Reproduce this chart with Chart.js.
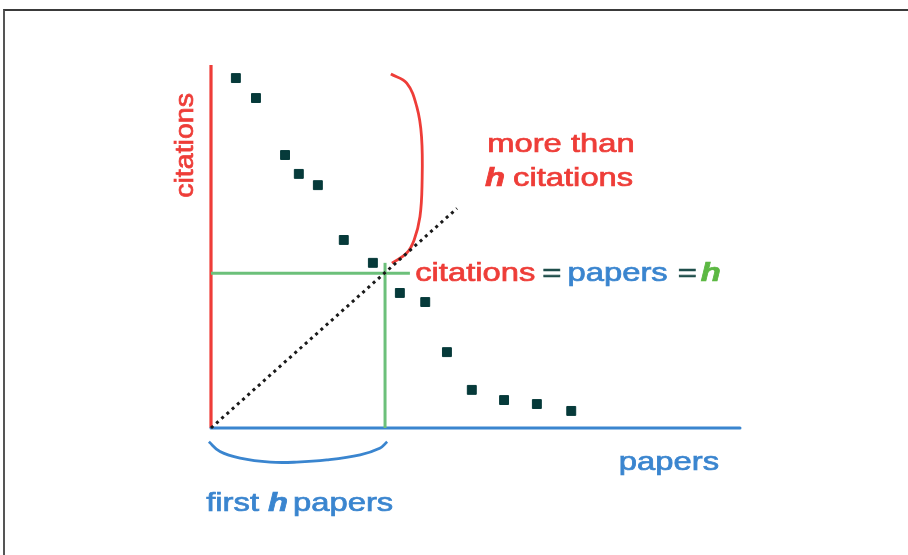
<!DOCTYPE html>
<html>
<head>
<meta charset="utf-8">
<script src="https://cdn.jsdelivr.net/npm/chart.js@4/dist/chart.umd.min.js"></script>
<style>
  html, body { margin: 0; padding: 0; background: #fff; overflow: hidden; }
  #frame { position: absolute; left: 3px; top: 9px; width: 920px; height: 560px;
           border-top: 2px solid #3a3a3a; border-left: 2px solid #555; }
  #chart { position: absolute; left: 0; top: 0; }
</style>
</head>
<body>
<div id="frame"></div>
<canvas id="chart" width="908" height="555"></canvas>
<script>
// papers ranked by citations (x = paper position, y = citations), 0..100 units
const paperX = [4.7, 8.5, 14.0, 16.6, 20.2, 25.1, 30.6, 35.7, 40.5, 44.6, 49.3, 55.4, 61.6, 68.1];
const citeY = [96.4, 90.9, 75.2, 70.0, 66.9, 51.8, 45.5, 37.2, 34.7, 20.9, 10.5, 7.7, 6.6, 4.7];

// h marker and the citations = papers diagonal
const hX = 32.9;
const hY = 42.6;
const diagEnd = [46.5, 60.5];

// braces
const bracePapersX = [-0.4, 1.7, 5.5, 11.2, 16.2, 21.9, 28.2, 31.9, 33.3];
const bracePapersY = [-3.8, -6.5, -8.3, -9.4, -9.4, -8.8, -7.4, -5.6, -3.8];
const braceCitesX = [34.0, 37.0, 38.9, 39.8, 39.9, 39.5, 38.4, 37.0, 34.2];
const braceCitesY = [97.5, 95.0, 88.5, 80.2, 67.5, 58.2, 51.8, 48.2, 45.4];

const RED = "#ee3d38";
const BLUE = "#3a85cf";
const GREEN = "#6cc07a";
const GREEN_TXT = "#5cb843";
const DARK = "#1f4e4b";

function pts(xs, ys) {
  return xs.map((x, i) => ({ x: x, y: ys[i] }));
}

function lineSet(data, color, width, extra) {
  return Object.assign({
    data: data,
    showLine: true,
    borderColor: color,
    borderWidth: width,
    pointRadius: 0,
    fill: false,
    clip: false,
  }, extra || {});
}

// text labels drawn against the scales; stretched a bit wider like the original
const FONT = "26px 'Liberation Sans', Arial, sans-serif";
const FONT_H = "bold italic 26px 'Liberation Sans', Arial, sans-serif";
const STRETCH = 1.26;

const labels = [
  { x: 52.2, y: 75.9, parts: [["more than", RED, FONT, 0]] },
  { x: 51.8, y: 66.7, parts: [["h", RED, FONT_H, 0], ["citations", RED, FONT, 8]] },
  { x: 38.6, y: 40.6, parts: [["citations", RED, FONT, 0], ["=", DARK, FONT, 7],
      ["papers", BLUE, FONT, 6], ["=", DARK, FONT, 10], ["h", GREEN_TXT, FONT_H, 4]] },
  { x: 77.1, y: -11.7, parts: [["papers", BLUE, FONT, 0]] },
  { x: -0.9, y: -22.9, parts: [["first", BLUE, FONT, 0], ["h", BLUE, FONT_H, 9],
      ["papers", BLUE, FONT, 5]] },
];

function drawText(ctx, text, color) {
  ctx.fillStyle = color;
  ctx.strokeStyle = color;
  ctx.lineWidth = 0.7;
  ctx.fillText(text, 0, 0);
  ctx.strokeText(text, 0, 0);
}

const textPlugin = {
  id: "textLabels",
  afterDatasetsDraw(chart) {
    const ctx = chart.ctx;
    const xs = chart.scales.x;
    const ys = chart.scales.y;
    ctx.save();
    ctx.textBaseline = "alphabetic";
    ctx.textAlign = "left";
    labels.forEach(function (lb) {
      let px = xs.getPixelForValue(lb.x);
      const py = ys.getPixelForValue(lb.y);
      lb.parts.forEach(function (p) {
        ctx.font = p[2];
        px += p[3];
        ctx.save();
        ctx.translate(px, py);
        ctx.scale(STRETCH, 1);
        drawText(ctx, p[0], p[1]);
        ctx.restore();
        px += ctx.measureText(p[0]).width * STRETCH;
      });
    });
    // y axis title, rotated
    ctx.font = FONT;
    ctx.translate(xs.getPixelForValue(-3.4), ys.getPixelForValue(63.4));
    ctx.rotate(-Math.PI / 2);
    ctx.scale(1.1, 1);
    drawText(ctx, "citations", RED);
    ctx.restore();
  },
};

const ctx = document.querySelector("#chart").getContext("2d");
new Chart(ctx, {
  type: "scatter",
  data: {
    datasets: [
      {
        data: pts(paperX, citeY),
        backgroundColor: "#063a3a",
        borderColor: "#063a3a",
        borderWidth: 1,
        pointStyle: "rect",
        pointRadius: 6.3,
        clip: false,
      },
      lineSet(pts([0, diagEnd[0]], [0, diagEnd[1]]), "#1a1a1a", 3, { borderDash: [3, 4] }),
      lineSet(pts(braceCitesX, braceCitesY), RED, 2.8, { tension: 0.4 }),
      lineSet(pts(bracePapersX, bracePapersY), BLUE, 2.8, { tension: 0.4 }),
      lineSet(pts([0, 37.6], [hY, hY]), GREEN, 3),
      lineSet(pts([hX, hX], [0, 45.5]), GREEN, 3),
      lineSet(pts([0, 100], [0, 0]), BLUE, 3, { borderCapStyle: "round" }),
      lineSet(pts([0, 0], [0, 100]), RED, 3.2),
    ],
  },
  options: {
    responsive: false,
    animation: false,
    events: [],
    layout: { padding: { left: 211, right: 168, top: 65, bottom: 127 } },
    scales: {
      x: { type: "linear", min: 0, max: 100, display: false },
      y: { type: "linear", min: 0, max: 100, display: false },
    },
    plugins: {
      legend: { display: false },
      tooltip: { enabled: false },
    },
  },
  plugins: [textPlugin],
});
</script>
</body>
</html>
